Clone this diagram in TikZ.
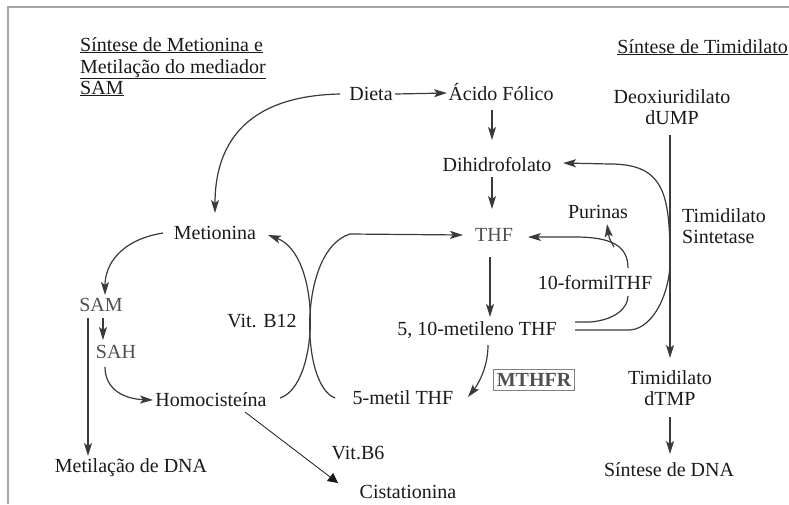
\documentclass[tikz,border=0pt]{standalone}
\usepackage{fontspec}
\setmainfont{Liberation Serif}
\usetikzlibrary{arrows.meta,calc}
\definecolor{lncol}{HTML}{3A3A3A}
\definecolor{tx}{HTML}{1A1A1A}
\definecolor{gtx}{HTML}{505050}
\begin{document}
\begin{tikzpicture}[x=1pt,y=-1pt,
  lbl/.style={font=\fontsize{20}{21}\selectfont, text=tx, inner sep=2pt},
  arr/.style={draw=lncol, line width=1.2pt, -{Stealth[length=13pt,width=8pt,inset=3pt]}},
  wire/.style={draw=lncol, line width=1.2pt},
  thinarr/.style={draw=tx, line width=0.8pt, -{Triangle[length=10pt,width=10pt]}},
]
\useasboundingbox (0,0) rectangle (789,504);
\fill[white] (0,0) rectangle (789,504);
\draw[gray!70, line width=1.5pt] (789,7) -- (8,7) -- (8,504);

% titles
\node[lbl, anchor=base west] (tA) at (78,51) {\underline{Síntese de Metionina e}};
\node[lbl, anchor=base west] (tB) at (78,73) {\underline{Metilação do mediador}};
\node[lbl, anchor=base west] (tC) at (78,94) {\underline{SAM}};
\node[lbl, anchor=base east, inner xsep=1pt] (tD) at (789,53) {\underline{Síntese de Timidilato}};

% nodes
\node[lbl] (dieta) at (371,94) {Dieta};
\node[lbl] (acido) at (501,92) {Ácido Fólico};
\node[lbl, align=center] (dump) at (672,107) {Deoxiuridilato\\dUMP};
\node[lbl] (dihidro) at (497,165) {Dihidrofolato};
\node[lbl, text=gtx] (thf) at (494,235) {THF};
\node[lbl] (purinas) at (598,212) {Purinas};
\node[lbl, align=left, anchor=west] (ts) at (680,226) {Timidilato\\Sintetase};
\node[lbl] (formil) at (595,283) {10-formilTHF};
\node[lbl] (metileno) at (477,330) {5, 10-metileno THF};
\node[lbl, draw=gray, line width=1pt, text=gtx, font=\fontsize{20}{21}\selectfont\bfseries, inner xsep=3pt, inner ysep=4pt] (mthfr) at (534,380) {MTHFR};
\node[lbl] (metil5) at (403,398) {5-metil THF};
\node[lbl, align=center] (dtmp) at (670,388) {Timidilato\\dTMP};
\node[lbl] (sdna) at (669,470) {Síntese de DNA};
\node[lbl] (metionina) at (215,233) {Metionina};
\node[lbl, text=gtx] (sam) at (101,305) {SAM};
\node[lbl, text=gtx] (sah) at (116,352) {SAH};
\node[lbl] (b12) at (262,321) {Vit. B12};
\node[lbl] (homo) at (211,400) {Homocisteína};
\node[lbl] (metdna) at (131,468) {Metilação de DNA};
\node[lbl] (b6) at (358,453) {Vit.B6};
\node[lbl] (cist) at (408,492) {Cistationina};

% connectors
\draw[arr] ($(dieta.center)+(24,0)$) -- ($(acido.center)+(-54,1)$);
\draw[arr] ($(acido.center)+(-9,18)$) -- ($(dihidro.center)+(-5,-25)$);
\draw[arr] ($(dihidro.center)+(-5,12)$) -- ($(thf.center)+(-2,-26)$);
\draw[arr] ($(thf.center)+(-4,22)$) -- ($(metileno.center)+(13,-13)$);
\draw[arr] ($(metileno.center)+(11,15)$) .. controls +(0,25) and +(8,-10) .. ($(metil5.center)+(65,-1)$);

\draw[arr] ($(homo.center)+(69,-2)$) .. controls (320,385) and (322,255) .. ($(metionina.center)+(53,2)$);
\draw[arr] ($(metil5.center)+(-68,0)$) .. controls (300,385) and (298,250) .. (350,234) -- ($(thf.center)+(-31,0)$);

\draw[arr] ($(dieta.center)+(-31,0)$) .. controls (240,96) and (215,150) .. ($(metionina.center)+(0,-20)$);
\draw[arr] ($(metionina.center)+(-52,0)$) .. controls (120,240) and (105,265) .. ($(sam.center)+(4,-10)$);
\draw[arr] ($(sam.center)+(2,13)$) -- ($(sah.center)+(-13,-12)$);
\draw[arr] ($(sam.center)+(-13,13)$) -- ($(metdna.center)+(-43,-12)$);
\draw[arr] ($(sah.center)+(-11,15)$) .. controls (105,390) and (125,399) .. ($(homo.center)+(-58,0)$);
\draw[thinarr] ($(homo.center)+(34,12)$) -- ($(cist.center)+(-70,-9)$);

\draw[arr] ($(dump.center)+(-2,28)$) -- ($(dtmp.center)+(0,-30)$);
\draw[arr] ($(dtmp.center)+(0,29)$) -- ($(sdna.center)+(1,-16)$);

\draw[arr] ($(metileno.center)+(98,0)$) -- (630,330) .. controls (655,328) and (670,290) .. (670,262) .. controls (670,195) and (665,164) .. (610,164) -- ($(dihidro.center)+(66,-2)$);
\draw[wire] ($(metileno.center)+(98,-8)$) -- (590,322) .. controls (615,320) and (628,308) .. ($(formil.center)+(33,13)$);
\draw[arr] ($(formil.center)+(33,-15)$) .. controls (628,245) and (610,237) .. (575,237) -- ($(thf.center)+(34,2)$);
\coordinate (pb) at (614,247);
\draw[arr] (pb) .. controls (609,238) .. ($(purinas.center)+(9,12)$);
\end{tikzpicture}
\end{document}
